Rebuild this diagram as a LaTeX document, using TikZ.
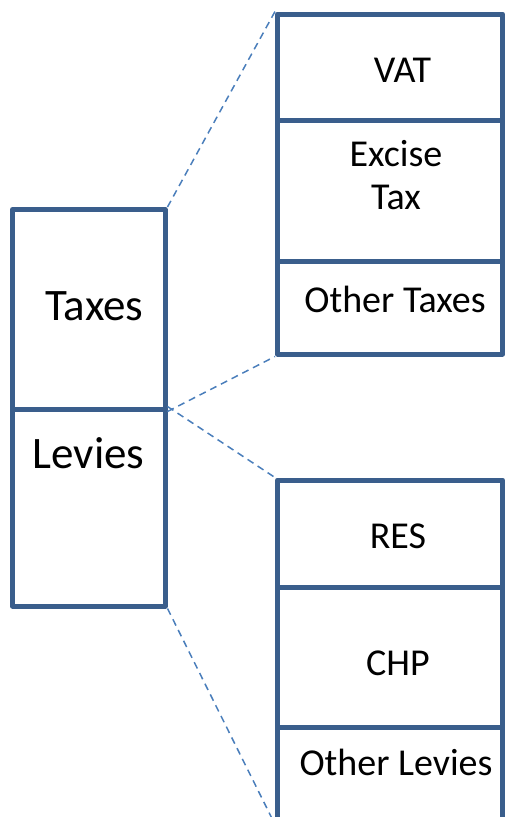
\documentclass[tikz,border=0pt]{standalone}
\usepackage{fontspec}
\setmainfont{Carlito}
\definecolor{boxblue}{RGB}{58,94,140}
\definecolor{linkblue}{RGB}{74,126,187}
\tikzset{
  cell/.style={draw=boxblue,line width=5pt,line join=round,inner sep=0pt,minimum width=#1},
  link/.style={draw=linkblue,line width=1.5pt,dash pattern=on 7pt off 5pt},
  big/.style={font=\fontsize{45}{54}\selectfont,anchor=base},
  small/.style={font=\fontsize{38}{46}\selectfont,anchor=base}
}
\begin{document}
\begin{tikzpicture}[x=1pt,y=-1pt]
    \useasboundingbox (0,0) rectangle (505,817);
    \clip (0,0) rectangle (505,817);
    % left column
    \foreach \nm/\ya/\yb in {taxes/209.5/409,levies/409/606}{
      \node[cell=152.5pt,minimum height=\yb-\ya] (\nm) at (88.75,{(\ya+\yb)/2}) {};
    }
    % right columns
    \foreach \nm/\ya/\yb in {vat/14/120,excise/120/261,othtax/261/354,res/480/587,chp/587/727,othlev/727/822}{
      \node[cell=225pt,minimum height=\yb-\ya] (\nm) at (390,{(\ya+\yb)/2}) {};
    }
    \node[big] (ltaxes) at (94.5,320) {Taxes};
    \node[big] (llevies) at (88.5,468) {Levies};
    \node[small] (lvat) at (402.5,82) {VAT};
    \node[small] (lexcise) at (396,166) {Excise};
    \node[small] (ltax) at (396,209) {Tax};
    \node[small] (lothtax) at (395,312) {Other Taxes};
    \node[small] (lres) at (398,548) {RES};
    \node[small] (lchp) at (398,675) {CHP};
    \node[small] (lothlev) at (396,775) {Other Levies};
    % dashed links
    \draw[link] (taxes.north east) -- (vat.north west);
    \draw[link] (taxes.south east) -- (othtax.south west);
    \draw[link] (levies.north east) -- (res.north west);
    \draw[link] (levies.south east) -- (othlev.south west);
\end{tikzpicture}
\end{document}
